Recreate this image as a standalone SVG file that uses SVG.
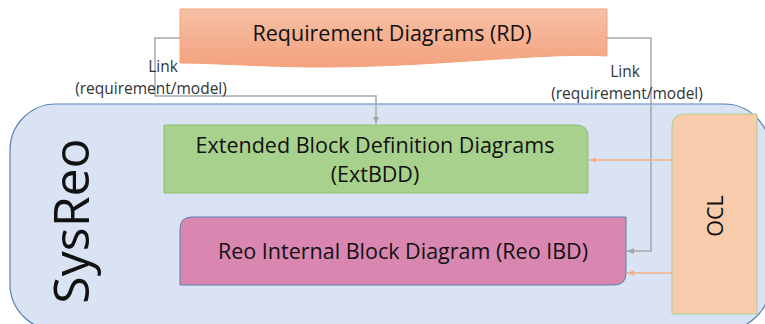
<svg xmlns="http://www.w3.org/2000/svg" width="765" height="324" viewBox="0 0 765 324">
<defs>
<linearGradient id="rdGrad" x1="0" y1="0" x2="0" y2="1">
<stop offset="0" stop-color="#F7C0A6"/>
<stop offset="1" stop-color="#F3A27E"/>
</linearGradient>
<marker id="arrGray" markerWidth="8" markerHeight="8" refX="7" refY="4" orient="auto" markerUnits="userSpaceOnUse">
<path d="M0,1 L7,4 L0,7 Z" fill="#A6A6A6"/>
</marker>
<marker id="arrOrange" markerWidth="8" markerHeight="8" refX="7" refY="4" orient="auto" markerUnits="userSpaceOnUse">
<path d="M0,1 L7,4 L0,7 Z" fill="#F4B183"/>
</marker>
</defs>
<style>
.t{font-family:"Open Sans","Liberation Sans",sans-serif;fill:#111;}
.lbl{font-family:"Open Sans","Liberation Sans",sans-serif;fill:#333;font-size:15.5px;text-anchor:middle;}
.gray{fill:none;stroke:#A6A6A6;stroke-width:1.5;}
.orange{fill:none;stroke:#F4B183;stroke-width:1.5;}
</style>
<g id="sysreo">
<rect x="10" y="104" width="760" height="226" rx="46" ry="46" fill="#DAE3F3" stroke="#5B82B9" stroke-width="1.2"/>
<text class="t" font-size="50" text-anchor="middle" transform="translate(89,221) rotate(-90)">SysReo</text>
</g>
<g id="rd">
<path d="M180,9 H607 V56 C540,52 430,68 310,67 C250,66 210,63 180,63 Z" fill="url(#rdGrad)" stroke="#F4A27A" stroke-width="1"/>
<text class="t" font-size="21.5" x="392" y="41" text-anchor="middle">Requirement Diagrams (RD)</text>
</g>
<g id="extbdd">
<path d="M164,125 H576 Q588,125 588,137 V193 H164 Z" fill="#A9D18E" stroke="#8FBC72" stroke-width="1"/>
<text class="t" font-size="21.5" x="375" y="153" text-anchor="middle">Extended Block Definition Diagrams</text>
<text class="t" font-size="21.5" x="375" y="182" text-anchor="middle">(ExtBDD)</text>
</g>
<g id="reoibd">
<path d="M192,217 H626 V273 Q626,285 614,285 H180 V229 Q180,217 192,217 Z" fill="#D986B0" stroke="#5A80B0" stroke-width="1"/>
<text class="t" font-size="21.5" x="403" y="259" text-anchor="middle">Reo Internal Block Diagram (Reo IBD)</text>
</g>
<g id="ocl">
<path d="M685,114 H757 V314 H672 V127 Q672,114 685,114 Z" fill="#F8CBAD" stroke="#A9D18E" stroke-width="1"/>
<text class="t" font-size="21.5" text-anchor="middle" transform="translate(723,216) rotate(-90)">OCL</text>
</g>
<g id="connectors">
<path class="gray" d="M180,38 H155 V96 H376 V124" marker-end="url(#arrGray)"/>
<path class="gray" d="M607,38 H651 V251 H627" marker-end="url(#arrGray)"/>
<path class="orange" d="M672,160 H589" marker-end="url(#arrOrange)"/>
<path class="orange" d="M672,273 H627" marker-end="url(#arrOrange)"/>
<text class="lbl" x="163" y="72">Link</text>
<text class="lbl" x="151" y="94">(requirement/model)</text>
<text class="lbl" x="625" y="77">Link</text>
<text class="lbl" x="627" y="99">(requirement/model)</text>
</g>
</svg>
